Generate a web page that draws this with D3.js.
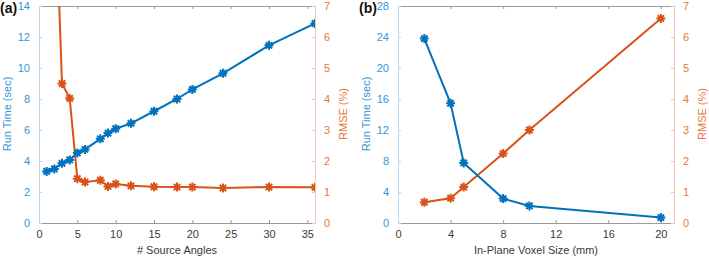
<!DOCTYPE html>
<meta charset="utf-8">
<style>
    body { margin: 0; background: #fff; }
    text { font-family: "Liberation Sans", Arial, sans-serif; }
</style>
<body>
    <script src="https://d3js.org/d3.v7.min.js"></script>
    <script>
        var width = 709,
            height = 258;

        // panel (a): number of source angles
        var anglesX = [1, 2, 3, 4, 5, 6, 8, 9, 10, 12, 15, 18, 20, 24, 30, 36];
        var anglesTime = [3.33, 3.49, 3.85, 4.07, 4.52, 4.75, 5.43, 5.8, 6.08, 6.43, 7.21, 8.0, 8.62, 9.66, 11.46, 12.87];
        var anglesRmse = [20, 11.5, 4.5, 4.02, 1.43, 1.32, 1.38, 1.18, 1.26, 1.2, 1.17, 1.16, 1.16, 1.13, 1.16, 1.15];

        // panel (b): in-plane voxel size
        var voxelX = [2, 4, 5, 8, 10, 20];
        var voxelTime = [23.8, 15.45, 7.75, 3.15, 2.2, 0.7];
        var voxelRmse = [0.67, 0.8, 1.16, 2.24, 3.0, 6.6];

        var blue = "#0072BD", orange = "#D95319";
        var blueText = "#3596d6", orangeText = "#e8763a";

        var svg = d3.select("body").append("svg")
            .attr("width", width)
            .attr("height", height);

        var starPath = "M-4.5,0H4.5M0,-4.5V4.5M-3.2,-3.2L3.2,3.2M-3.2,3.2L3.2,-3.2";
        var plotTop = 6, plotBottom = 223;

        function panel(opt) {
            var x = d3.scaleLinear().domain(opt.xDomain).range([opt.left, opt.right]);
            var yL = d3.scaleLinear().domain(opt.yLDomain).range([plotBottom, plotTop]);
            var yR = d3.scaleLinear().domain([0, 7]).range([plotBottom, plotTop]);

            var g = svg.append("g");

            g.append("clipPath").attr("id", opt.id)
                .append("rect")
                .attr("x", opt.left).attr("y", plotTop)
                .attr("width", opt.right - opt.left).attr("height", plotBottom - plotTop);

            // bottom and top axes
            var bottom = g.append("g").attr("transform", "translate(0," + plotBottom + ")")
                .call(d3.axisBottom(x).tickValues(opt.xTicks).tickSizeInner(-3).tickSizeOuter(0).tickPadding(7));
            var top = g.append("g").attr("transform", "translate(0," + plotTop + ")")
                .call(d3.axisTop(x).tickValues(opt.xTicks).tickSizeInner(-3).tickSizeOuter(0).tickFormat(""));
            [bottom, top].forEach(function(a) {
                a.select(".domain").attr("stroke", "#9a9a9a");
                a.selectAll(".tick line").attr("stroke", "#9a9a9a");
                a.selectAll("text").attr("fill", "#3a3a3a").style("font-size", "11px");
            });

            var left = g.append("g").attr("transform", "translate(" + opt.left + ",0)")
                .call(d3.axisLeft(yL).tickValues(opt.yLTicks).tickSizeInner(-3).tickSizeOuter(0).tickPadding(9));
            left.select(".domain").attr("stroke", "#b5d8f0");
            left.selectAll(".tick line").attr("stroke", "#b5d8f0");
            left.selectAll("text").attr("fill", blueText).style("font-size", "11px");

            var right = g.append("g").attr("transform", "translate(" + opt.right + ",0)")
                .call(d3.axisRight(yR).ticks(7).tickSizeInner(-3).tickSizeOuter(0).tickPadding(9));
            right.select(".domain").attr("stroke", "#f2c7b3");
            right.selectAll(".tick line").attr("stroke", "#f2c7b3");
            right.selectAll("text").attr("fill", orangeText).style("font-size", "11px");

            var plot = g.append("g").attr("clip-path", "url(#" + opt.id + ")");

            function series(xs, ys, scale, color) {
                var pts = xs.map(function(v, i) { return [x(v), scale(ys[i])]; });
                plot.append("path")
                    .attr("d", d3.line()(pts))
                    .attr("fill", "none")
                    .attr("stroke", color)
                    .attr("stroke-width", 2);
                plot.selectAll(null)
                    .data(pts)
                    .enter().append("path")
                    .attr("transform", function(d) { return "translate(" + d[0] + "," + d[1] + ")"; })
                    .attr("d", starPath)
                    .attr("stroke", color)
                    .attr("stroke-width", 2)
                    .attr("fill", "none");
            }
            series(opt.xs, opt.rmse, yR, orange);
            series(opt.xs, opt.time, yL, blue);

            // axis titles
            g.append("text")
                .attr("transform", "translate(" + (opt.left - 28) + ",114) rotate(-90)")
                .attr("text-anchor", "middle")
                .attr("fill", blueText)
                .style("font-size", "11px")
                .text("Run Time (sec)");
            g.append("text")
                .attr("transform", "translate(" + (opt.right + 32) + ",114) rotate(-90)")
                .attr("text-anchor", "middle")
                .attr("fill", orangeText)
                .style("font-size", "11px")
                .text("RMSE (%)");
            g.append("text")
                .attr("x", (opt.left + opt.right) / 2)
                .attr("y", 254)
                .attr("text-anchor", "middle")
                .attr("fill", "#3a3a3a")
                .style("font-size", "11px")
                .text(opt.xLabel);
            g.append("text")
                .attr("x", opt.left - 39)
                .attr("y", 13)
                .attr("fill", "#111")
                .style("font-size", "14px")
                .style("font-weight", "bold")
                .text(opt.tag);
        }

        panel({
            id: "clipA", tag: "(a)", left: 39, right: 315,
            xDomain: [0, 36], xTicks: [0, 5, 10, 15, 20, 25, 30, 35],
            yLDomain: [0, 14], yLTicks: [0, 2, 4, 6, 8, 10, 12, 14],
            xs: anglesX, time: anglesTime, rmse: anglesRmse,
            xLabel: "# Source Angles"
        });

        panel({
            id: "clipB", tag: "(b)", left: 398, right: 674,
            xDomain: [0, 21], xTicks: [0, 4, 8, 12, 16, 20],
            yLDomain: [0, 28], yLTicks: [0, 4, 8, 12, 16, 20, 24, 28],
            xs: voxelX, time: voxelTime, rmse: voxelRmse,
            xLabel: "In-Plane Voxel Size (mm)"
        });
    </script>
</body>
